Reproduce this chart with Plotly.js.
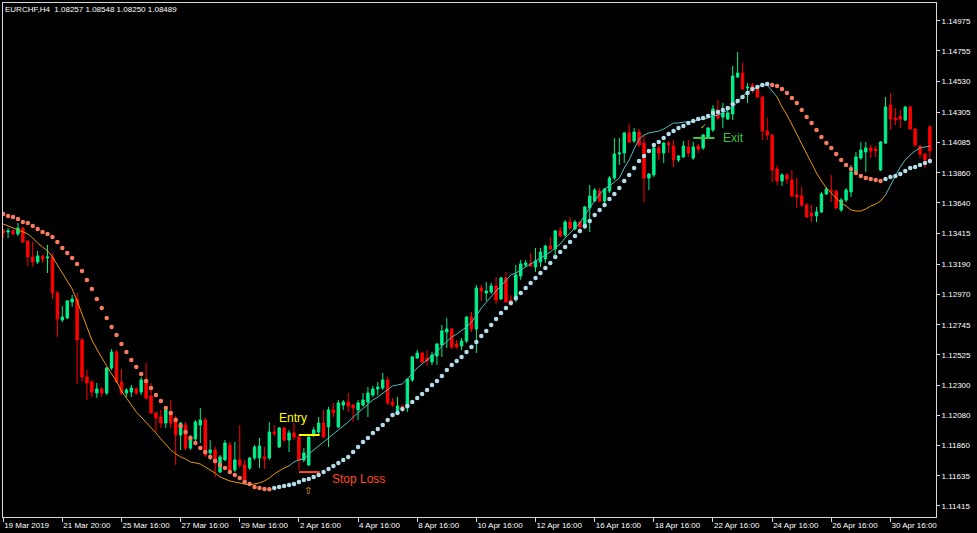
<!DOCTYPE html>
<html><head><meta charset="utf-8">
<script src="https://cdn.plot.ly/plotly-3.0.1.min.js"></script>
<style>html,body{margin:0;padding:0;background:#000;}#chart{width:977px;height:533px;}</style>
</head><body><div id="chart"></div>
<script>
// ---- DATA (EURCHF,H4 chart) ----
const openP = [
1.13441,1.13426,1.13434,1.13412,1.13455,1.13360,1.13243,1.13206,1.13250,1.13235,
1.13243,1.12978,1.12780,1.12795,1.12912,1.12934,1.12633,1.12362,1.12325,1.12244,
1.12274,1.12244,1.12428,1.12545,1.12325,1.12244,1.12251,1.12274,1.12251,1.12340,
1.12222,1.12098,1.12068,1.12024,1.12105,1.12061,1.11936,1.12009,1.11840,1.11907,
1.12009,1.12046,1.11804,1.11826,1.11664,1.11753,1.11863,1.11679,1.11753,1.11716,
1.11694,1.11767,1.11767,1.11775,1.11767,1.11958,1.11848,1.11988,1.11899,1.11951,
1.11921,1.11753,1.11716,1.11936,1.11958,1.12024,1.11995,1.12120,1.11995,1.12156,
1.12178,1.12156,1.12120,1.12156,1.12178,1.12230,1.12274,1.12281,1.12340,1.12178,
1.12098,1.12149,1.12134,1.12340,1.12501,1.12538,1.12501,1.12472,1.12516,1.12597,
1.12692,1.12714,1.12604,1.12589,1.12626,1.12802,1.12714,1.13015,1.12978,1.12986,
1.13030,1.12934,1.13089,1.12927,1.12927,1.13103,1.13184,1.13199,1.13170,1.13206,
1.13228,1.13323,1.13301,1.13434,1.13404,1.13499,1.13448,1.13499,1.13455,1.13602,
1.13653,1.13727,1.13653,1.13727,1.13822,1.13999,1.14006,1.14153,1.14094,1.14160,
1.14079,1.13822,1.13845,1.14043,1.14006,1.14079,1.14057,1.13955,1.13977,1.14050,
1.13969,1.14057,1.14043,1.14123,1.14175,1.14322,1.14270,1.14255,1.14292,1.14564,
1.14593,1.14483,1.14505,1.14476,1.14417,1.14167,1.14138,1.13889,1.13801,1.13845,
1.13808,1.13698,1.13690,1.13624,1.13566,1.13544,1.13573,1.13705,1.13734,1.13727,
1.13588,1.13661,1.13720,1.13867,1.13969,1.14013,1.14043,1.14035,1.13881,1.14079,
1.14358,1.14263,1.14277,1.14248,1.14344,1.14182,1.14057,1.13999,1.14197];
const highP = [
1.13448,1.13455,1.13441,1.13492,1.13463,1.13367,1.13352,1.13287,1.13257,1.13331,
1.13272,1.12993,1.12883,1.12927,1.12963,1.12978,1.12648,1.12413,1.12340,1.12318,
1.12288,1.12435,1.12567,1.12560,1.12421,1.12281,1.12303,1.12288,1.12362,1.12465,
1.12318,1.12105,1.12120,1.12149,1.12193,1.12075,1.12031,1.12031,1.11936,1.12046,
1.12134,1.12061,1.11899,1.11848,1.11789,1.11899,1.11885,1.11885,1.12009,1.11753,
1.11775,1.11863,1.11914,1.11848,1.12031,1.12009,1.11995,1.11995,1.11973,1.12024,
1.11936,1.11840,1.11929,1.11995,1.12068,1.12120,1.12142,1.12171,1.12193,1.12193,
1.12244,1.12164,1.12193,1.12244,1.12288,1.12296,1.12325,1.12391,1.12362,1.12208,
1.12215,1.12156,1.12354,1.12516,1.12560,1.12545,1.12560,1.12545,1.12611,1.12744,
1.12795,1.12722,1.12633,1.12648,1.12810,1.12839,1.13037,1.13037,1.13059,1.13052,
1.13096,1.13096,1.13133,1.12963,1.13184,1.13221,1.13221,1.13272,1.13309,1.13309,
1.13331,1.13389,1.13441,1.13463,1.13514,1.13536,1.13514,1.13507,1.13617,1.13771,
1.13749,1.13749,1.13749,1.13837,1.14116,1.14116,1.14160,1.14219,1.14189,1.14182,
1.14138,1.13859,1.14050,1.14065,1.14087,1.14094,1.14101,1.13991,1.14094,1.14101,
1.14087,1.14072,1.14145,1.14197,1.14358,1.14395,1.14373,1.14344,1.14645,1.14747,
1.14667,1.14520,1.14520,1.14483,1.14424,1.14263,1.14145,1.13918,1.13859,1.13859,
1.13881,1.13822,1.13756,1.13639,1.13624,1.13610,1.13720,1.13756,1.13845,1.13734,
1.13676,1.13749,1.13918,1.14013,1.14087,1.14087,1.14065,1.14057,1.14094,1.14417,
1.14446,1.14336,1.14322,1.14351,1.14351,1.14189,1.14065,1.14006,1.14211];
const lowP = [
1.13382,1.13382,1.13404,1.13397,1.13345,1.13177,1.13170,1.13192,1.13199,1.13125,
1.12934,1.12655,1.12765,1.12787,1.12876,1.12311,1.12325,1.12193,1.12215,1.12208,
1.12215,1.12230,1.12413,1.12318,1.12230,1.12215,1.12215,1.12230,1.12230,1.12193,
1.12091,1.11958,1.11988,1.11988,1.11988,1.11716,1.11826,1.11826,1.11826,1.11885,
1.11877,1.11775,1.11753,1.11628,1.11657,1.11745,1.11664,1.11664,1.11694,1.11598,
1.11679,1.11753,1.11694,1.11687,1.11753,1.11929,1.11840,1.11885,1.11811,1.11899,
1.11679,1.11738,1.11709,1.11921,1.11936,1.11914,1.11848,1.12068,1.11988,1.12120,
1.12105,1.12031,1.12046,1.12142,1.12068,1.12215,1.12230,1.12266,1.12156,1.12142,
1.12083,1.12105,1.12105,1.12325,1.12494,1.12465,1.12443,1.12450,1.12450,1.12509,
1.12575,1.12567,1.12567,1.12560,1.12611,1.12692,1.12538,1.12920,1.12920,1.12971,
1.12898,1.12927,1.12905,1.12883,1.12912,1.13074,1.13170,1.13170,1.13133,1.13170,
1.13199,1.13294,1.13257,1.13389,1.13389,1.13441,1.13441,1.13426,1.13448,1.13426,
1.13646,1.13646,1.13631,1.13712,1.13808,1.13918,1.13933,1.14079,1.14079,1.14050,
1.13646,1.13734,1.13830,1.13955,1.13933,1.14006,1.13903,1.13940,1.13969,1.13977,
1.13955,1.14006,1.14028,1.14116,1.14160,1.14248,1.14189,1.14248,1.14248,1.14556,
1.14468,1.14373,1.14446,1.14410,1.14101,1.14101,1.13793,1.13771,1.13764,1.13779,
1.13683,1.13602,1.13610,1.13529,1.13499,1.13499,1.13566,1.13698,1.13646,1.13595,
1.13573,1.13646,1.13683,1.13845,1.13955,1.13867,1.13969,1.13977,1.13874,1.14072,
1.14175,1.14211,1.14189,1.14241,1.14175,1.14050,1.13969,1.13896,1.13925];
const closeP = [
1.13419,1.13434,1.13412,1.13455,1.13352,1.13243,1.13206,1.13250,1.13228,1.13243,
1.12978,1.12787,1.12802,1.12920,1.12934,1.12633,1.12362,1.12318,1.12251,1.12274,
1.12244,1.12428,1.12545,1.12325,1.12244,1.12266,1.12281,1.12244,1.12340,1.12208,
1.12098,1.12061,1.12024,1.12120,1.12024,1.11936,1.12024,1.11840,1.11921,1.12031,
1.12046,1.11789,1.11826,1.11731,1.11775,1.11877,1.11679,1.11753,1.11716,1.11606,
1.11767,1.11848,1.11855,1.11760,1.11958,1.11944,1.11988,1.11899,1.11951,1.11921,
1.11753,1.11804,1.11921,1.11973,1.12024,1.11921,1.12120,1.12098,1.12171,1.12178,
1.12149,1.12134,1.12171,1.12193,1.12244,1.12274,1.12288,1.12340,1.12171,1.12156,
1.12149,1.12120,1.12347,1.12509,1.12538,1.12472,1.12479,1.12523,1.12604,1.12700,
1.12714,1.12582,1.12582,1.12626,1.12802,1.12714,1.13015,1.12993,1.12993,1.13030,
1.12927,1.13089,1.12912,1.12905,1.13111,1.13192,1.13199,1.13177,1.13214,1.13279,
1.13323,1.13301,1.13434,1.13397,1.13499,1.13455,1.13499,1.13463,1.13610,1.13690,
1.13734,1.13653,1.13742,1.13822,1.13999,1.14006,1.14153,1.14087,1.14160,1.14065,
1.13822,1.13852,1.14043,1.14006,1.14079,1.14065,1.13955,1.13984,1.14057,1.14006,
1.14050,1.14035,1.14138,1.14189,1.14329,1.14263,1.14300,1.14300,1.14571,1.14593,
1.14476,1.14490,1.14468,1.14417,1.14167,1.14138,1.13881,1.13801,1.13845,1.13815,
1.13690,1.13683,1.13624,1.13536,1.13544,1.13573,1.13705,1.13742,1.13727,1.13602,
1.13661,1.13734,1.13867,1.13977,1.14028,1.14043,1.14021,1.14021,1.14087,1.14344,
1.14255,1.14248,1.14255,1.14344,1.14182,1.14065,1.13999,1.13955,1.14021];
// dotted trend line (one dot per bar)
const dotLine = [
1.13558,1.13544,1.13536,1.13522,1.13499,1.13492,1.13470,1.13448,1.13426,1.13412,
1.13389,1.13352,1.13309,1.13272,1.13235,1.13192,1.13140,1.13074,1.13008,1.12934,
1.12868,1.12795,1.12729,1.12670,1.12604,1.12545,1.12487,1.12435,1.12384,1.12332,
1.12281,1.12230,1.12186,1.12134,1.12098,1.12046,1.12002,1.11958,1.11914,1.11877,
1.11840,1.11811,1.11775,1.11745,1.11716,1.11694,1.11664,1.11642,1.11620,1.11591,
1.11577,1.11555,1.11547,1.11540,1.11538,1.11547,1.11555,1.11562,1.11569,1.11577,
1.11591,1.11606,1.11613,1.11628,1.11642,1.11664,1.11687,1.11709,1.11731,1.11753,
1.11775,1.11811,1.11848,1.11885,1.11914,1.11951,1.11980,1.12009,1.12046,1.12083,
1.12098,1.12127,1.12149,1.12178,1.12208,1.12237,1.12266,1.12303,1.12332,1.12369,
1.12413,1.12450,1.12479,1.12509,1.12545,1.12582,1.12619,1.12663,1.12700,1.12744,
1.12787,1.12832,1.12868,1.12905,1.12942,1.12978,1.13015,1.13052,1.13089,1.13125,
1.13162,1.13199,1.13243,1.13279,1.13316,1.13352,1.13397,1.13434,1.13470,1.13507,
1.13551,1.13588,1.13624,1.13668,1.13705,1.13749,1.13801,1.13845,1.13896,1.13947,
1.13984,1.14021,1.14065,1.14087,1.14116,1.14145,1.14167,1.14189,1.14204,1.14226,
1.14241,1.14255,1.14263,1.14277,1.14300,1.14307,1.14322,1.14336,1.14366,1.14388,
1.14417,1.14446,1.14476,1.14490,1.14505,1.14512,1.14505,1.14498,1.14476,1.14446,
1.14410,1.14373,1.14322,1.14270,1.14226,1.14175,1.14123,1.14079,1.14043,1.13999,
1.13955,1.13918,1.13889,1.13859,1.13837,1.13822,1.13815,1.13808,1.13801,1.13815,
1.13830,1.13837,1.13852,1.13874,1.13896,1.13903,1.13918,1.13933,1.13947];
// thin moving-average line
const maLine = [
1.13485,1.13470,1.13455,1.13441,1.13426,1.13412,1.13382,1.13345,1.13316,1.13287,
1.13243,1.13184,1.13125,1.13067,1.13008,1.12920,1.12824,1.12722,1.12633,1.12567,
1.12501,1.12443,1.12384,1.12332,1.12259,1.12208,1.12156,1.12105,1.12068,1.12031,
1.11995,1.11951,1.11907,1.11863,1.11826,1.11797,1.11775,1.11760,1.11738,1.11731,
1.11723,1.11701,1.11679,1.11657,1.11628,1.11613,1.11598,1.11591,1.11584,1.11577,
1.11569,1.11577,1.11584,1.11598,1.11620,1.11650,1.11672,1.11694,1.11709,1.11738,
1.11753,1.11760,1.11797,1.11826,1.11855,1.11885,1.11914,1.11944,1.11966,1.12002,
1.12031,1.12068,1.12098,1.12134,1.12164,1.12193,1.12215,1.12244,1.12266,1.12296,
1.12303,1.12311,1.12347,1.12391,1.12428,1.12457,1.12487,1.12516,1.12545,1.12589,
1.12619,1.12655,1.12677,1.12700,1.12729,1.12765,1.12810,1.12868,1.12912,1.12949,
1.12993,1.13030,1.13067,1.13111,1.13125,1.13147,1.13170,1.13192,1.13214,1.13235,
1.13257,1.13279,1.13309,1.13338,1.13382,1.13419,1.13455,1.13492,1.13551,1.13602,
1.13661,1.13705,1.13742,1.13764,1.13793,1.13822,1.13896,1.13955,1.14035,1.14109,
1.14138,1.14153,1.14160,1.14167,1.14182,1.14204,1.14226,1.14226,1.14233,1.14233,
1.14241,1.14248,1.14255,1.14263,1.14277,1.14285,1.14300,1.14322,1.14344,1.14380,
1.14424,1.14454,1.14468,1.14490,1.14505,1.14505,1.14461,1.14417,1.14344,1.14285,
1.14219,1.14145,1.14072,1.13999,1.13933,1.13859,1.13801,1.13749,1.13712,1.13676,
1.13639,1.13617,1.13588,1.13580,1.13580,1.13595,1.13617,1.13631,1.13653,1.13698,
1.13771,1.13837,1.13903,1.13955,1.13991,1.14021,1.14043,1.14050,1.14057];
// MA colour segments: [fromBar, toBar, trend]
const maSegments = [[0,58,'down'],[58,157,'up'],[157,179,'down'],[179,188,'up']];
const timeLabels = ['19 Mar 2019','21 Mar 20:00','25 Mar 16:00','27 Mar 16:00','29 Mar 16:00',
 '2 Apr 16:00','4 Apr 16:00','8 Apr 16:00','10 Apr 16:00','12 Apr 16:00','16 Apr 16:00',
 '18 Apr 16:00','22 Apr 16:00','24 Apr 16:00','26 Apr 16:00','30 Apr 16:00'];
const barsPerLabel = 12;
const priceTicks = [1.14975,1.14755,1.14530,1.14305,1.14085,1.13860,1.13640,1.13415,1.13190,
 1.12970,1.12745,1.12525,1.12300,1.12080,1.11860,1.11635,1.11415];
const entryPrice = 1.11936, stopPrice = 1.11664, exitPrice = 1.14116;
const headerText = 'EURCHF,H4\u00a0\u00a01.08257 1.08548 1.08250 1.08489';

// ---- STYLE ----
const bull = '#00F08C', bear = '#FF0000';
const maColors = {down:'#E89A00', up:'#4FBDBD'};
const dotDown = '#F77B5E', dotUp = '#B4DCEA';
const font = 'Liberation Sans, Arial, sans-serif';

const n = openP.length;
const idx = Array.from({length:n}, (_, i) => i);

const traces = [];
traces.push({
  type:'candlestick', x:idx, open:openP, high:highP, low:lowP, close:closeP,
  increasing:{line:{color:bull, width:1}, fillcolor:bull},
  decreasing:{line:{color:bear, width:1}, fillcolor:bear},
  whiskerwidth:0, hoverinfo:'skip', showlegend:false
});
maSegments.forEach(([a,b,t]) => {
  traces.push({type:'scatter', mode:'lines', x:idx.slice(a,b+1), y:maLine.slice(a,b+1),
    line:{color:maColors[t], width:1}, hoverinfo:'skip', showlegend:false});
});
// dot colour follows the dot line direction
let prevUp = dotLine[1] > dotLine[0];
const dotColors = dotLine.map((v,i) => {
  if (i > 0) { if (v > dotLine[i-1]) prevUp = true; else if (v < dotLine[i-1]) prevUp = false; }
  return prevUp ? dotUp : dotDown;
});
traces.push({type:'scatter', mode:'markers', x:idx, y:dotLine,
  marker:{color:dotColors, size:4.5, symbol:'circle', line:{width:0}}, hoverinfo:'skip', showlegend:false});

const layout = {
  width:977, height:533,
  margin:{l:3, r:41, t:3, b:16, pad:0},
  paper_bgcolor:'#000', plot_bgcolor:'#000', showlegend:false,
  font:{family:font, color:'#fff', size:8},
  xaxis:{range:[-0.03,189.24], showgrid:false, zeroline:false, showline:true, linecolor:'#d8d8d8',
    linewidth:1, mirror:true, ticks:'outside', ticklen:4, tickcolor:'#d8d8d8',
    tickvals:timeLabels.map((_,i)=>i*barsPerLabel), ticktext:timeLabels,
    ticklabelposition:'outside right', tickfont:{family:font, size:8, color:'#fff'},
    rangeslider:{visible:false}, fixedrange:true},
  yaxis:{side:'right', range:[1.11334,1.15107], showgrid:false, zeroline:false, showline:true,
    linecolor:'#d8d8d8', linewidth:1, mirror:true, ticks:'outside', ticklen:3, tickcolor:'#d8d8d8',
    tickvals:priceTicks, ticktext:priceTicks.map(v=>v.toFixed(5)),
    tickfont:{family:font, size:8, color:'#fff'}, fixedrange:true},
  shapes:[
    {type:'line', xref:'x', yref:'y', x0:60, x1:64.2, y0:entryPrice, y1:entryPrice, line:{color:'#FFFF00', width:2}},
    {type:'line', xref:'x', yref:'y', x0:60, x1:64.2, y0:stopPrice, y1:stopPrice, line:{color:'#FF4A1C', width:2}},
    {type:'line', xref:'x', yref:'y', x0:140, x1:144.3, y0:exitPrice, y1:exitPrice, line:{color:'#3EC43E', width:2}}
  ],
  annotations:[
    {xref:'paper', yref:'paper', x:0, y:1, xanchor:'left', yanchor:'top', xshift:0, yshift:0,
      text:headerText, showarrow:false, font:{family:font, size:8, color:'#fff'}},
    {xref:'x', yref:'y', x:58.9, y:1.12061, text:'Entry', showarrow:false,
      font:{family:font, size:12, color:'#FFFF00'}},
    {xref:'x', yref:'y', x:72.1, y:1.11613, text:'Stop Loss', showarrow:false,
      font:{family:font, size:12, color:'#FF4A1C'}},
    {xref:'x', yref:'y', x:148.1, y:exitPrice, text:'Exit', showarrow:false,
      font:{family:font, size:12, color:'#3EC43E'}},
    {xref:'x', yref:'y', x:61.9, y:1.11532, text:'\u21e7', showarrow:false,
      font:{family:'DejaVu Sans', size:10, color:'#E0A020'}},
    {xref:'x', yref:'y', x:142, y:1.14204, text:'\u2713', showarrow:false,
      font:{family:'DejaVu Sans', size:8, color:'#D8C000'}}
  ]
};
Plotly.newPlot('chart', traces, layout, {staticPlot:true, displayModeBar:false});
</script></body></html>
